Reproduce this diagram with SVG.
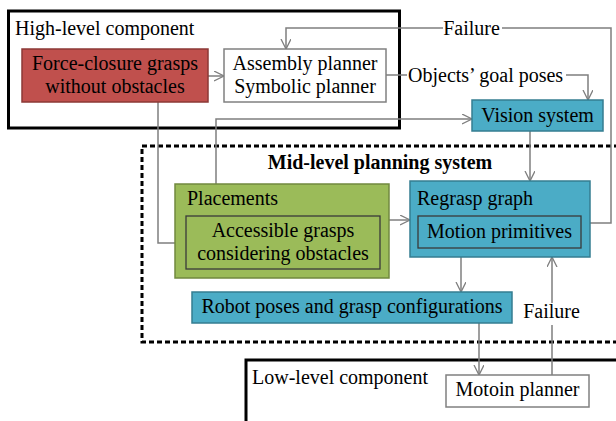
<svg xmlns="http://www.w3.org/2000/svg" width="616" height="421" viewBox="0 0 616 421">
<defs>
<marker id="arr" markerWidth="12" markerHeight="12" refX="10" refY="5" orient="auto" markerUnits="userSpaceOnUse">
<path d="M0,0 L10,5 L0,10" fill="none" stroke="#7f7f7f" stroke-width="1.3"/>
</marker>
<style>
text{font-family:'Liberation Serif','Times New Roman',serif;font-size:20px;fill:#000}
.c{text-anchor:middle}
.b{font-weight:bold}
.frame{fill:none;stroke:#000;stroke-width:3}
.dash{fill:none;stroke:#000;stroke-width:3;stroke-dasharray:5 3}
.white{fill:#fff;stroke:#808080;stroke-width:1.5}
.red{fill:#c0504d;stroke:#8c3836;stroke-width:1.5}
.green{fill:#9bbb59;stroke:#71893f;stroke-width:1.5}
.blue{fill:#4bacc6;stroke:#357d91;stroke-width:1.5}
.inner{fill:none;stroke:#3a3a3a;stroke-width:1.3}
.ln{fill:none;stroke:#7f7f7f;stroke-width:1.5}
</style>
</defs>
<rect x="0" y="0" width="616" height="421" fill="#fff"/>

<g id="high-level">
<rect class="frame" x="8.5" y="11" width="391" height="117"/>
<text x="15" y="35">High-level component</text>
</g>
<g id="mid-level">
<rect class="dash" x="142" y="146" width="500" height="196"/>
<text class="c b" x="380" y="169">Mid-level planning system</text>
</g>
<g id="low-level">
<rect class="frame" x="246" y="360" width="400" height="100"/>
<text x="252" y="384">Low-level component</text>
</g>

<g id="connectors">
<path class="ln" d="M208,76 H224" marker-end="url(#arr)"/>
<path class="ln" d="M590,223 H611 V28 H502 M443,28 H286 V49" marker-end="url(#arr)"/>
<path class="ln" d="M386,75 H407 M566,75 H588 V100" marker-end="url(#arr)"/>
<path class="ln" d="M216,184 V119 H472" marker-end="url(#arr)"/>
<path class="ln" d="M158,102 V243 H186" marker-end="url(#arr)"/>
<path class="ln" d="M389,220 H410" marker-end="url(#arr)"/>
<path class="ln" d="M530,131 V181" marker-end="url(#arr)"/>
<path class="ln" d="M461,257 V292" marker-end="url(#arr)"/>
<path class="ln" d="M479,323 V375" marker-end="url(#arr)"/>
<path class="ln" d="M552,375 V325 M552,303 V257" marker-end="url(#arr)"/>
<text class="c" x="471.5" y="35">Failure</text>
<text x="408" y="82">Objects’ goal poses</text>
<text class="c" x="551.5" y="318">Failure</text>
</g>

<g id="force-closure">
<rect class="red" x="22" y="49" width="186" height="53"/>
<text class="c" x="115" y="70">Force-closure grasps</text>
<text class="c" x="115" y="93">without obstacles</text>
</g>
<g id="assembly-planner">
<rect class="white" x="224" y="49" width="162" height="53"/>
<text class="c" x="305" y="70">Assembly planner</text>
<text class="c" x="305" y="93">Symbolic planner</text>
</g>
<g id="vision-system">
<rect class="blue" x="472" y="100" width="131" height="31"/>
<text class="c" x="537.5" y="122">Vision system</text>
</g>
<g id="placements">
<rect class="green" x="175" y="184" width="214" height="94"/>
<text x="187" y="205">Placements</text>
<rect class="inner" x="186" y="216" width="194" height="53"/>
<text class="c" x="283" y="237">Accessible grasps</text>
<text class="c" x="283" y="260">considering obstacles</text>
</g>
<g id="regrasp-graph">
<rect class="blue" x="410" y="181" width="180" height="76"/>
<text x="417" y="205">Regrasp graph</text>
<rect class="inner" x="418" y="216" width="163" height="32"/>
<text class="c" x="499.5" y="238">Motion primitives</text>
</g>
<g id="robot-poses">
<rect class="blue" x="192" y="292" width="320" height="31"/>
<text class="c" x="352" y="313">Robot poses and grasp configurations</text>
</g>
<g id="motion-planner">
<rect class="white" x="446" y="375" width="143" height="32"/>
<text class="c" x="517.5" y="396">Motoin planner</text>
</g>
</svg>
